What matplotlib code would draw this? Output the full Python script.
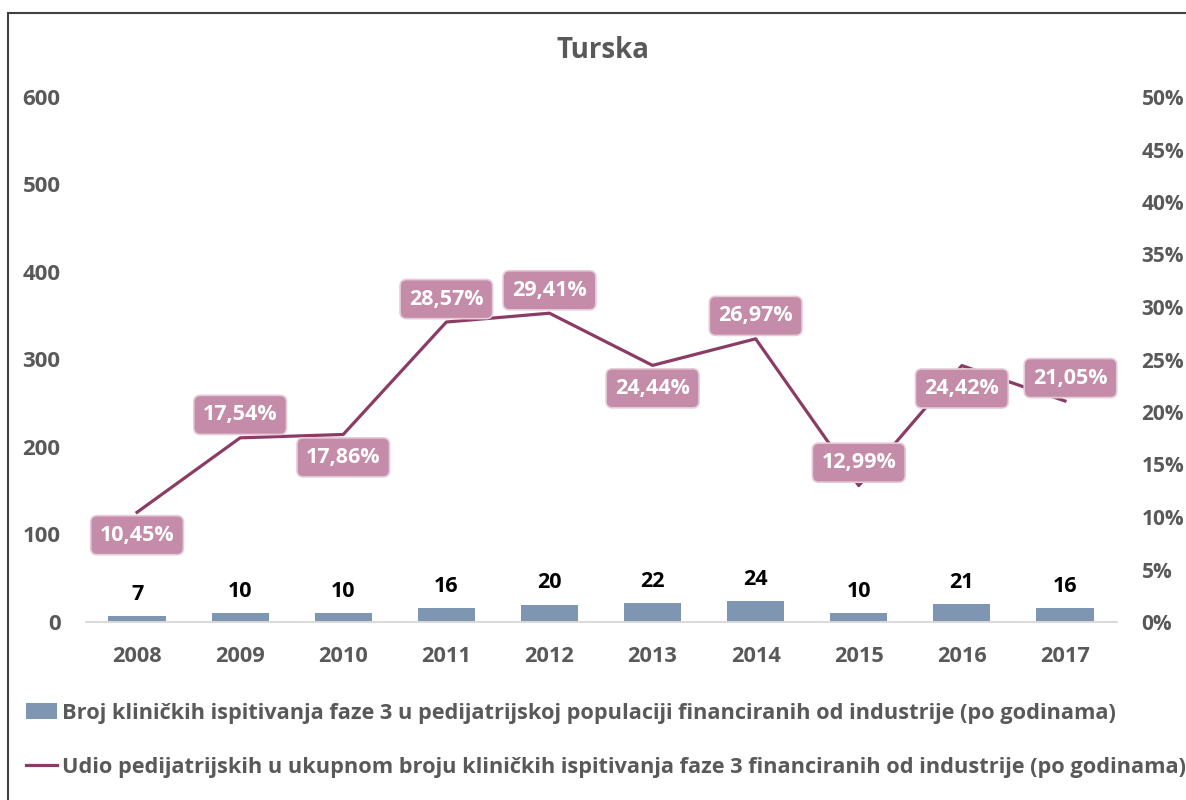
import matplotlib
matplotlib.use("Agg")
import matplotlib.pyplot as plt
from matplotlib.patches import Rectangle
from matplotlib.ticker import FuncFormatter

plt.rcParams['font.family'] = ['Open Sans', 'DejaVu Sans']

years = ['2008', '2009', '2010', '2011', '2012', '2013', '2014', '2015', '2016', '2017']
counts = [7, 10, 10, 16, 20, 22, 24, 10, 21, 16]
shares = [10.45, 17.54, 17.86, 28.57, 29.41, 24.44, 26.97, 12.99, 24.42, 21.05]
share_labels = ['10,45%', '17,54%', '17,86%', '28,57%', '29,41%', '24,44%', '26,97%', '12,99%', '24,42%', '21,05%']
label_side = [-1, 1, -1, 1, 1, -1, 1, 1, -1, 1]

title = 'Turska'
bar_name = 'Broj kliničkih ispitivanja faze 3 u pedijatrijskoj populaciji financiranih od industrije (po godinama)'
line_name = 'Udio pedijatrijskih u ukupnom broju kliničkih ispitivanja faze 3 financiranih od industrije (po godinama)'

bar_color = '#7F96B2'
line_color = '#8B3C64'
lab_fc = '#C48CA8'
tick_color = '#595959'

fig = plt.figure(figsize=(11.86, 8), dpi=100)
ax = fig.add_axes([0.0721, 0.2225, 0.8693, 0.65625])
ax2 = ax.twinx()

x = list(range(len(years)))
bars = ax.bar(x, counts, width=0.555, color=bar_color, zorder=2)
ax.set_xlim(-0.5, len(years) - 0.5)
ax.set_ylim(0, 600)
ax.set_yticks(range(0, 601, 100))
ax.set_xticks(x)
ax.set_xticklabels(years)
for c, xi in zip(counts, x):
    ax.annotate(str(c), (xi, c), xytext=(0, 15.5), textcoords='offset points',
                ha='center', va='center', fontsize=15.5, fontweight='bold', color='black')

line, = ax2.plot(x, shares, color=line_color, lw=2.3, zorder=3)
ax2.set_ylim(0, 50)
ax2.set_yticks(range(0, 51, 5))
ax2.yaxis.set_major_formatter(FuncFormatter(lambda v, p: f'{int(v)}%'))
for xi, s, lab, side in zip(x, shares, share_labels, label_side):
    dx = 4 if xi == len(years) - 1 else 0
    ax2.annotate(lab, (xi, s), xytext=(dx, 16.5 * side), textcoords='offset points',
                 ha='center', va='center', fontsize=15.5, fontweight='bold', color='white',
                 bbox=dict(boxstyle='round,pad=0.42,rounding_size=0.3', fc=lab_fc, ec='#E6CCD9', lw=1.2),
                 zorder=5)

for a in (ax, ax2):
    for sp in ('left', 'right', 'top'):
        a.spines[sp].set_visible(False)
    a.spines['bottom'].set_color('#D9D9D9')
    a.spines['bottom'].set_linewidth(1.2)
    a.tick_params(length=0, labelsize=16, labelcolor=tick_color)
    for t in a.get_yticklabels() + a.get_xticklabels():
        t.set_fontweight('bold')
ax.tick_params(axis='y', pad=18)
ax2.tick_params(axis='y', pad=18, labelsize=15)
ax.tick_params(axis='x', pad=17, labelsize=15.7)

fig.text(0.5085, 0.9375, title, ha='center', va='center', fontsize=20, fontweight='bold', color=tick_color)

leg = fig.legend([bars, line], [bar_name, line_name], loc='upper left',
                 bbox_to_anchor=(0.0147, 0.1325), frameon=False, fontsize=15.65,
                 labelspacing=1.53, handlelength=1.43, handletextpad=0.23, borderaxespad=0)
for t in leg.get_texts():
    t.set_fontweight('bold')
    t.set_color(tick_color)

fig.patches.append(Rectangle((0.0067, -0.05), 1.1, 0.98375 + 0.05, transform=fig.transFigure,
                             fill=False, ec='#404040', lw=1.5, zorder=0))

fig.savefig('out.png', dpi=100)
